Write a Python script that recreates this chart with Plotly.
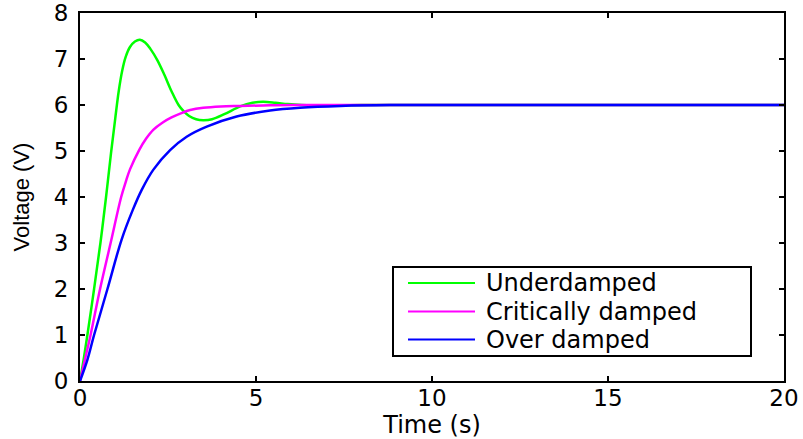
import plotly.graph_objects as go

# ---- data ----
t_under = [0, 0.10, 0.21, 0.40, 0.58, 0.74, 0.88, 1.00, 1.10, 1.20, 1.30, 1.42, 1.56, 1.70,
           1.85, 2.00, 2.20, 2.40, 2.60, 2.80, 2.95, 3.10, 3.30, 3.50, 3.75, 4.10, 4.55,
           4.90, 5.20, 5.55, 5.90, 6.30, 7.00, 8.00, 10.0, 12.0, 15.0, 20.0]
v_under = [0, 0.45, 1.00, 2.00, 3.00, 4.00, 4.95, 5.70, 6.30, 6.75, 7.05, 7.26, 7.38, 7.42,
           7.36, 7.22, 6.97, 6.65, 6.30, 6.00, 5.86, 5.76, 5.69, 5.67, 5.69, 5.80, 5.97,
           6.05, 6.07, 6.05, 6.02, 6.00, 5.99, 6.00, 6.00, 6.00, 6.00, 6.00]

t_crit = [0, 0.15, 0.30, 0.57, 0.87, 1.17, 1.30, 1.42, 1.68, 1.88, 2.08, 2.35, 2.60, 2.90,
          3.13, 3.50, 4.00, 4.55, 5.20, 6.00, 8.00, 10.0, 15.0, 20.0]
v_crit = [0, 0.50, 1.00, 2.00, 3.00, 4.00, 4.33, 4.60, 5.02, 5.27, 5.46, 5.62, 5.73, 5.83,
          5.89, 5.94, 5.97, 5.98, 5.99, 6.00, 6.00, 6.00, 6.00, 6.00]

t_over = [0, 0.21, 0.40, 0.78, 1.18, 1.50, 1.75, 2.08, 2.56, 3.03, 3.60, 4.45, 5.40, 6.25,
          7.40, 8.80, 10.0, 12.0, 15.0, 20.0]
v_over = [0, 0.46, 1.00, 2.00, 3.07, 3.72, 4.15, 4.59, 5.02, 5.31, 5.53, 5.75, 5.88, 5.94,
          5.98, 6.00, 6.00, 6.00, 6.00, 6.00]

series_names = ["Underdamped", "Critically damped", "Over damped"]
series_colors = ["#00ff00", "#ff00ff", "#0000ff"]

x_ticks = [0, 5, 10, 15, 20]
y_ticks = [0, 1, 2, 3, 4, 5, 6, 7, 8]

FONT = "DejaVu Sans"
W, H = 803, 439
ML, MR, MT, MB = 80, 19, 13, 58
PW, PH = W - ML - MR, H - MT - MB


def px_x(p):
    return (p - ML) / PW


def px_y(p):
    return (H - MB - p) / PH


fig = go.Figure()
for t, v, name, col in zip([t_under, t_crit, t_over], [v_under, v_crit, v_over],
                           series_names, series_colors):
    fig.add_trace(go.Scatter(x=t, y=v, mode="lines", name=name, showlegend=False,
                             line=dict(color=col, width=2.5, shape="spline", smoothing=1.0)))

axis_common = dict(showgrid=False, zeroline=False, showline=True, linecolor="black",
                   linewidth=2, mirror="ticks", ticks="inside", ticklen=5, tickwidth=2,
                   tickcolor="black", automargin=False,
                   tickfont=dict(family=FONT, size=23, color="black"))

# legend box (MATLAB style), drawn in paper coordinates
shapes = [dict(type="rect", xref="paper", yref="paper",
               x0=px_x(393), x1=px_x(751), y0=px_y(356), y1=px_y(267),
               line=dict(color="black", width=2), fillcolor="white", layer="above")]
annotations = []
row_y = [283, 311.5, 339.5]
for name, col, ry in zip(series_names, series_colors, row_y):
    shapes.append(dict(type="line", xref="paper", yref="paper",
                       x0=px_x(408), x1=px_x(475), y0=px_y(ry), y1=px_y(ry),
                       line=dict(color=col, width=2), layer="above"))
    annotations.append(dict(xref="paper", yref="paper", x=px_x(484), y=px_y(ry),
                            xanchor="left", yanchor="middle", text=name, showarrow=False,
                            font=dict(family=FONT, size=24, color="black")))

fig.update_layout(
    width=W, height=H,
    margin=dict(l=ML, r=MR, t=MT, b=MB),
    paper_bgcolor="white", plot_bgcolor="white",
    font=dict(family=FONT, color="black"),
    xaxis=dict(range=[0, 20], tickvals=x_ticks, ticklabelstandoff=-5,
               title=dict(text="Time (s)", font=dict(family=FONT, size=24), standoff=3),
               **axis_common),
    yaxis=dict(range=[0, 8], tickvals=y_ticks, ticklabelstandoff=5,
               title=dict(text="Voltage (V)", font=dict(family="Liberation Sans", size=22),
                          standoff=18),
               **axis_common),
    shapes=shapes,
    annotations=annotations,
    showlegend=False,
)

fig.write_html("out.html", config={"displayModeBar": False},
               post_script="document.body.style.margin='0';document.body.style.overflow='hidden';")
